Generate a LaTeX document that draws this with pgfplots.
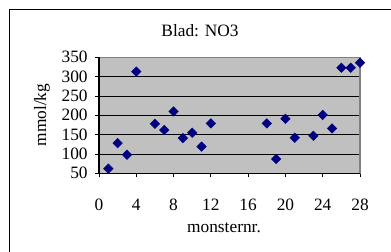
\documentclass[border=0pt]{standalone}
\usepackage{pgfplots}
\pgfplotsset{compat=1.18}
\usepackage{fontspec}
\setmainfont{Liberation Serif}
\definecolor{bg}{RGB}{192,192,192}
\definecolor{navy}{RGB}{0,0,128}
\definecolor{frm}{RGB}{128,128,128}
\begin{document}
\begin{tikzpicture}[x=0.75pt,y=0.75pt]
\useasboundingbox (0,0) rectangle (391,252);
\draw[black,line width=0.9pt] (9.5,0) -- (9.5,242.5) -- (391,242.5);
\coordinate (A) at (99,78.7);
\begin{axis}[
  at={(A)}, anchor=south west,
  scale only axis, width=195.75pt, height=87pt,
  xmin=0, xmax=28, ymin=50, ymax=350,
  xtick={0,4,...,28}, ytick={50,100,...,350},
  axis background/.style={fill=bg},
  axis line style={frm, line width=0.8pt},
  ymajorgrids, grid style={black, line width=0.6pt},
  tick align=outside, major tick length=3pt,
  tick style={black, line width=0.6pt},
  xtick pos=bottom, ytick pos=left,
  /pgf/number format/assume math mode=true,
  ticklabel style={font=\fontsize{13}{13}\selectfont},
  yticklabel style={xshift=-2pt},
  xticklabel style={yshift=-13pt},
  clip=false,
]
\addplot[only marks, mark=square*, mark size=2.5pt, mark options={rotate=45, fill=navy, draw=navy}, color=navy] coordinates {
(1,62) (2,128) (3,98) (4,313) (6,178) (7,162) (8,210) (9,141) (10,155) (11,119) (12,179)
(18,179) (19,87) (20,191) (21,142) (23,147) (24,201) (25,166) (26,323) (27,323) (28,336)
};
\draw[black, line width=0.8pt] (rel axis cs:0,1) -- (rel axis cs:0,0) -- (rel axis cs:1,0);
\end{axis}
\node[font=\fontsize{13}{13}\selectfont] at (200,221) {Blad: NO3};
\node[font=\fontsize{13}{13}\selectfont] at (224,24) {monsternr.};
\node[font=\fontsize{13}{13}\selectfont, rotate=90] at (42,137) {mmol/kg};
\end{tikzpicture}
\end{document}
